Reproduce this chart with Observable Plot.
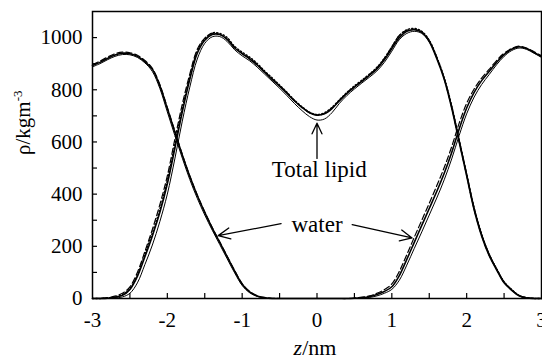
<!DOCTYPE html>
<html><head><meta charset="utf-8">
<script src="https://cdn.jsdelivr.net/npm/d3@7"></script>
<script src="https://cdn.jsdelivr.net/npm/@observablehq/plot@0.6"></script>
<style>
html,body{margin:0;padding:0;background:#fff;overflow:hidden;}
#chart svg{display:block;}
</style></head><body><div id="chart"></div>
<script>
// z positions (nm)
const zValues = [-3.0,-2.9,-2.8,-2.7,-2.6,-2.5,-2.4,-2.3,-2.2,-2.1,-2.0,-1.9,-1.8,-1.7,-1.6,-1.5,-1.4,-1.3,-1.2,-1.1,-1.0,-0.9,-0.8,-0.7,-0.6,-0.5,-0.4,-0.3,-0.2,-0.1,0.0,0.1,0.2,0.3,0.4,0.5,0.6,0.7,0.8,0.9,1.0,1.1,1.2,1.3,1.4,1.5,1.6,1.7,1.8,1.9,2.0,2.1,2.2,2.3,2.4,2.5,2.6,2.7,2.8,2.9,3.0];

// Total lipid density (kg m^-3), several runs
const lipidA = [0,0,1,5,12,35,85,160,240,330,440,575,715,840,940,990,1012,1012,993,960,938,918,895,867,840,814,786,757,732,712,703,708,728,758,786,810,832,855,880,915,958,1000,1024,1030,1020,985,920,840,730,600,470,340,240,165,110,60,32,10,2,0,0];
const lipidB = [0,0,0,2,6,20,60,130,205,295,400,535,680,810,918,978,1003,1004,985,953,930,911,887,860,833,806,777,747,720,697,684,688,712,748,778,803,826,848,872,905,948,992,1016,1024,1016,984,922,845,738,610,480,350,248,172,115,65,35,12,3,0,0];
const lipidDashed = [0,1,3,9,20,45,100,180,265,360,470,610,745,860,955,998,1016,1012,994,963,940,922,897,870,842,815,788,758,733,712,703,709,730,760,788,812,834,858,884,920,965,1008,1028,1032,1022,988,925,842,732,602,472,342,242,167,112,62,33,11,3,1,0];
const lipidDotted = [0,0,2,6,15,38,90,170,252,342,452,590,728,848,948,995,1018,1016,1000,966,944,925,901,872,846,818,790,760,735,714,705,712,733,762,790,815,837,860,886,921,964,1008,1030,1035,1024,990,926,846,738,606,476,346,246,170,114,64,35,12,3,0,0];

// Water density (kg m^-3), several runs
const waterA = [893,905,920,933,940,938,928,908,878,815,728,638,550,468,395,330,270,215,160,105,55,25,10,3,0,0,0,0,0,0,0,0,0,0,0,1,3,7,15,27,45,88,150,215,280,345,410,480,560,650,730,790,835,870,905,935,955,965,958,943,927];
const waterB = [888,900,915,928,935,934,924,903,870,805,715,625,538,456,384,320,262,207,152,98,50,22,8,2,0,0,0,0,0,0,0,0,0,0,0,0,1,4,10,20,35,70,128,192,255,320,385,455,535,625,708,772,820,858,896,928,950,960,955,940,924];
const waterDashed = [897,910,925,938,944,942,932,912,882,820,732,642,552,470,397,332,272,217,162,107,57,27,11,4,1,0,0,0,0,0,0,0,0,0,0,2,5,10,20,34,56,104,168,235,300,365,432,502,582,672,748,803,845,878,912,940,958,967,960,946,930];

// Axis ticks and labels
const xLabelTicks = [-3,-2,-1,0,1,2,3];
const xMarkTicks = [-2.5,-2,-1.5,-1,-0.5,0,0.5,1,1.5,2,2.5];
const yLabelTicks = [0,200,400,600,800,1000];
const yMarkTicks = [100,200,300,400,500,600,700,800,900,1000];
const xTitle = "z/nm";
const yTitle = "ρ/kgm-3";

// Annotations (data units)
const noteLabels = ["Total lipid","water"];
const noteZ = [0.03, 0.0];
const noteRho = [494, 285];
const arrowX1 = [0.0, -0.48, 0.47];
const arrowY1 = [537, 287, 283];
const arrowX2 = [0.0, -1.32, 1.27];
const arrowY2 = [672, 241, 232];

const W = 542, H = 359, mL = 92, mR = 1, mT = 11, mB = 61;
const plotH = H - mT - mB, plotW = W - mL - mR;
const rows = vals => zValues.map((z, i) => ({z, rho: vals[i]}));
const notes = noteLabels.map((label, i) => ({label, z: noteZ[i], rho: noteRho[i]}));
const arrows = arrowX1.map((x1, i) => ({x1, y1: arrowY1[i], x2: arrowX2[i], y2: arrowY2[i]}));
const serif = '"Liberation Serif", "Times New Roman", serif';

const svg = Plot.plot({
  width: W, height: H,
  marginLeft: mL, marginRight: mR, marginTop: mT, marginBottom: mB,
  style: {fontFamily: serif, background: "white", color: "black"},
  x: {domain: [-3, 3], axis: null},
  y: {domain: [0, 1100], axis: null},
  marks: [
    Plot.line(rows(waterB), {x: "z", y: "rho", stroke: "black", strokeWidth: 1, curve: "catmull-rom"}),
    Plot.line(rows(waterDashed), {x: "z", y: "rho", stroke: "black", strokeWidth: 1.2, strokeDasharray: "6,3", curve: "catmull-rom"}),
    Plot.line(rows(waterA), {x: "z", y: "rho", stroke: "black", strokeWidth: 1.6, curve: "catmull-rom"}),
    Plot.line(rows(lipidB), {x: "z", y: "rho", stroke: "black", strokeWidth: 1, curve: "catmull-rom"}),
    Plot.line(rows(lipidDashed), {x: "z", y: "rho", stroke: "black", strokeWidth: 1.2, strokeDasharray: "6,3", curve: "catmull-rom"}),
    Plot.line(rows(lipidDotted), {x: "z", y: "rho", stroke: "black", strokeWidth: 1.4, strokeDasharray: "1.2,2.2", curve: "catmull-rom"}),
    Plot.line(rows(lipidA), {x: "z", y: "rho", stroke: "black", strokeWidth: 1.6, curve: "catmull-rom"}),
    Plot.tickX(xMarkTicks, {x: d => d, stroke: "black", strokeWidth: 1.2, insetTop: plotH - 5}),
    Plot.tickY(yMarkTicks, {y: d => d, stroke: "black", strokeWidth: 1.2, insetRight: plotW - 5}),
    Plot.text(xLabelTicks, {x: d => d, frameAnchor: "bottom", lineAnchor: "top", dy: 14, text: d => String(d),
      fontSize: 21, fontFamily: serif, fill: "black"}),
    Plot.text(yLabelTicks, {y: d => d, frameAnchor: "left", textAnchor: "end", dx: -10, text: d => String(d),
      fontSize: 21, fontFamily: serif, fill: "black"}),
    Plot.text([xTitle], {frameAnchor: "bottom", lineAnchor: "bottom", dy: 56, dx: -2, text: d => d,
      fontSize: 22, fontFamily: serif, fill: "black"}),
    Plot.text([yTitle], {frameAnchor: "left", lineAnchor: "top", rotate: -90, dx: -77, text: d => d,
      fontSize: 21, fontFamily: serif, fill: "black"}),
    Plot.frame({stroke: "black", strokeWidth: 1.5}),
    Plot.arrow(arrows, {x1: "x1", y1: "y1", x2: "x2", y2: "y2", stroke: "black", strokeWidth: 1.3, headLength: 15, headAngle: 50}),
    Plot.text(notes, {x: "z", y: "rho", text: "label", fontSize: 23, fontFamily: serif, fill: "black"})
  ]
});

// Rich text for axis titles (italic z, superscript exponent)
const ns = "http://www.w3.org/2000/svg";
function tspan(parent, txt, attrs) {
  const t = document.createElementNS(ns, "tspan");
  t.textContent = txt;
  for (const k in attrs) t.setAttribute(k, attrs[k]);
  parent.appendChild(t);
  return t;
}
svg.querySelectorAll("text").forEach(t => {
  if (t.textContent === xTitle) {
    t.textContent = "";
    tspan(t, "z", {"font-style": "italic"});
    tspan(t, "/nm", {});
  } else if (t.textContent === yTitle) {
    t.textContent = "";
    tspan(t, "ρ/kgm", {});
    tspan(t, "-3", {"font-size": "13", "dy": "-8"});
  }
});
document.getElementById("chart").appendChild(svg);
</script></body></html>
